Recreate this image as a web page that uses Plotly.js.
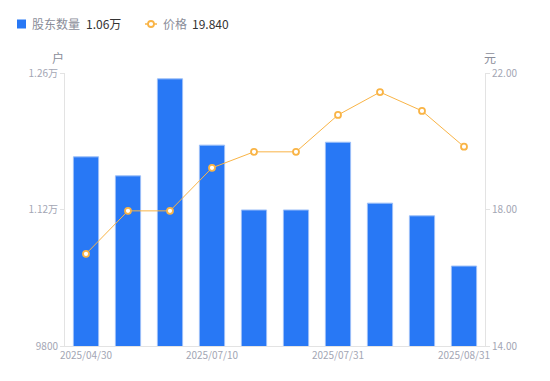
<!DOCTYPE html>
<html><head><meta charset="utf-8">
<script src="https://cdn.plot.ly/plotly-3.0.1.min.js"></script>
<style>body{margin:0;background:#fff}#c{width:550px;height:381px}</style>
</head><body><div id="c"></div>
<script>
const dates = ['2025/04/30','2025/05/20','2025/06/10','2025/07/10','2025/07/18','2025/07/25','2025/07/31','2025/08/10','2025/08/20','2025/08/31'];
const holders = [11740, 11545, 12540, 11860, 11195, 11195, 11890, 11265, 11135, 10620];
const prices = [16.70, 17.96, 17.96, 19.22, 19.69, 19.69, 20.77, 21.44, 20.89, 19.84];
const xTickLabels = ['2025/04/30','2025/07/10','2025/07/31','2025/08/31'];
const leftTickVals = [9800, 11200, 12600];
const leftTickText = ['9800','1.12万','1.26万'];
const rightTickVals = [14, 18, 22];
const rightTickText = ['14.00','18.00','22.00'];
const legendNames = ['股东数量', '价格'];
const legendValues = ['1.06万', '19.840'];

const font = "'Noto Sans CJK SC', 'Noto Sans', sans-serif";
const tickColor = '#a3a6b4';
const barColor = '#2878f5';
const lineColor = '#f9b446';

// plot area in pixels
const L = 65, R = 65, T = 73, B = 35, W = 550, H = 381;
const pw = W - L - R, ph = H - T - B;
const px = v => (v - L) / pw;
const py = v => (H - B - v) / ph;

const data = [
  {type:'bar', x:dates, y:holders, name:legendNames[0], showlegend:false,
   marker:{color:barColor, line:{color:'#9cbff8', width:1}}, width:0.6, hoverinfo:'none'},
  {type:'scatter', mode:'lines+markers', x:dates, y:prices, yaxis:'y2', name:legendNames[1], showlegend:false,
   line:{color:lineColor, width:1},
   marker:{size:6, color:'#ffffff', line:{color:lineColor, width:1.8}}, hoverinfo:'none'}
];

const legFont = {size:12, color:'#8a8d99', family:font};
const valFont = {size:12, color:'#333333', family:font};

const layout = {
  width:W, height:H,
  margin:{l:L, r:R, t:T, b:B},
  paper_bgcolor:'#fff', plot_bgcolor:'#fff',
  font:{family:font, size:10, color:tickColor},
  showlegend:false,
  xaxis:{type:'category', range:[-0.5, 9.5], tickmode:'array', tickvals:xTickLabels, ticktext:xTickLabels,
         showline:true, linecolor:'#e3e3e3', linewidth:1, ticks:'', showgrid:false, zeroline:false,
         tickfont:{size:10, color:tickColor}, fixedrange:true},
  yaxis:{range:[9800,12600], tickmode:'array', tickvals:leftTickVals, ticktext:leftTickText,
         showline:true, linecolor:'#e3e3e3', linewidth:1, ticks:'outside', ticklen:4, tickcolor:'#e3e3e3',
         showgrid:false, zeroline:false, tickfont:{size:10, color:tickColor}},
  yaxis2:{range:[14,22], overlaying:'y', side:'right', tickmode:'array', tickvals:rightTickVals, ticktext:rightTickText,
          showline:true, linecolor:'#e3e3e3', linewidth:1, ticks:'outside', ticklen:4, tickcolor:'#e3e3e3',
          showgrid:false, zeroline:false, tickfont:{size:10, color:tickColor}},
  shapes:[
    {type:'rect', xref:'paper', yref:'paper', x0:px(17), x1:px(26), y0:py(28.5), y1:py(19.5),
     fillcolor:barColor, line:{width:0}, layer:'above'},
    {type:'line', xref:'paper', yref:'paper', x0:px(145), x1:px(157), y0:py(24), y1:py(24),
     line:{color:lineColor, width:1.5}},
    {type:'circle', xref:'paper', yref:'paper', x0:px(148), x1:px(154), y0:py(27), y1:py(21),
     fillcolor:'#fff', line:{color:lineColor, width:1.8}}
  ],
  annotations:[
    {text:legendNames[0], xref:'paper', yref:'paper', x:px(30), y:py(24), xanchor:'left', yanchor:'middle', showarrow:false, font:legFont},
    {text:legendValues[0], xref:'paper', yref:'paper', x:px(84), y:py(24), xanchor:'left', yanchor:'middle', showarrow:false, font:valFont},
    {text:legendNames[1], xref:'paper', yref:'paper', x:px(161), y:py(24), xanchor:'left', yanchor:'middle', showarrow:false, font:legFont},
    {text:legendValues[1], xref:'paper', yref:'paper', x:px(190), y:py(24), xanchor:'left', yanchor:'middle', showarrow:false, font:valFont},
    {text:'户', xref:'paper', yref:'paper', x:px(58), y:py(57), xanchor:'center', yanchor:'middle', showarrow:false,
     font:{size:12, color:'#8a8d99', family:font}},
    {text:'元', xref:'paper', yref:'paper', x:px(490), y:py(57), xanchor:'center', yanchor:'middle', showarrow:false,
     font:{size:12, color:'#8a8d99', family:font}}
  ]
};
Plotly.newPlot('c', data, layout, {displayModeBar:false, staticPlot:true});
</script></body></html>
